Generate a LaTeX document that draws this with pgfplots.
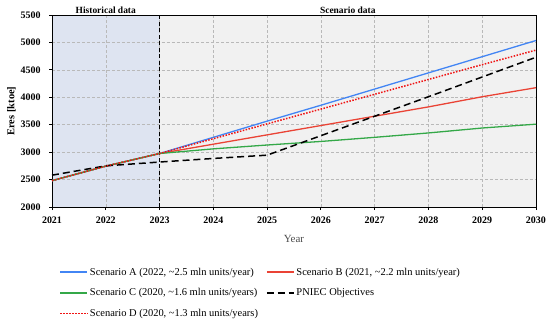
\documentclass[border=0pt]{standalone}
\usepackage{pgfplots}
\pgfplotsset{compat=1.18}
\usetikzlibrary{calc}
\usepackage{fontspec}
\setmainfont{Liberation Serif}
\definecolor{scenA}{RGB}{66,133,244}
\definecolor{scenB}{RGB}{234,67,53}
\definecolor{scenC}{RGB}{52,168,72}
\definecolor{scenD}{RGB}{240,20,20}
\definecolor{histbg}{RGB}{222,228,241}
\definecolor{scenbg}{RGB}{241,241,241}
\tikzset{
  stA/.style={color=scenA, line width=1.3pt},
  stB/.style={color=scenB, line width=1.3pt},
  stC/.style={color=scenC, line width=1.3pt},
  stP/.style={color=black, line width=1.5pt, dash pattern=on 7pt off 4pt},
  stD/.style={color=scenD, line width=1.5pt, dash pattern=on 1.5pt off 1.5pt},
}
\begin{document}
\begin{tikzpicture}
\begin{axis}[
  scale only axis,
  width=484bp, height=192bp,
  xmin=2021, xmax=2030, ymin=2000, ymax=5500,
  xtick={2021,...,2030}, ytick={2000,2500,...,5500},
  axis background/.style={fill=scenbg, path picture={
    \fill[histbg] (path picture bounding box.south west) rectangle
      ($(path picture bounding box.north west)!0.2222222!(path picture bounding box.north east)$);}},
  /pgf/number format/assume math mode=true,
  x tick label style={/pgf/number format/1000 sep={}, yshift=-3bp},
  y tick label style={/pgf/number format/1000 sep={}, xshift=-5bp},
  tick label style={font=\bfseries\fontsize{10}{12}\selectfont, black},
  tick align=outside, tick pos=left,
  major tick length=3bp,
  every tick/.style={black, line width=0.8pt},
  axis line style={black, line width=0.9pt},
  grid=major,
  major grid style={gray!55, dash pattern=on 3pt off 2pt, line width=0.5pt},
  xlabel={Year}, xlabel style={font=\fontsize{11}{13}\selectfont, text=black!70, yshift=-5bp},
  ylabel={Eres [ktoe]}, ylabel style={font=\bfseries\fontsize{10.5}{12}\selectfont, yshift=-2bp},
  clip=false,
  legend columns=2,
  legend cell align=left,
  legend style={at={(0.015,-0.305)}, anchor=north west, draw=none, fill=none,
    font=\fontsize{10.5}{12.5}\selectfont, row sep=8bp, inner sep=0pt,
    /tikz/every even column/.append style={column sep=6bp}},
  legend image code/.code={\draw[#1] (0bp,0bp) -- (27bp,0bp);},
]
\addplot[black, line width=0.9pt, dash pattern=on 4pt off 2.5pt, forget plot]
  coordinates {(2023,2000)(2023,5500)};

\addplot[stA] coordinates {
(2021,2480)(2022,2745)(2023,2975)(2024,3270)(2025,3565)(2026,3855)(2027,4150)(2028,4445)(2029,4740)(2030,5035)};
\addlegendentry{Scenario A (2022, \textasciitilde2.5 mln units/year)}
\addplot[stB] coordinates {
(2021,2480)(2022,2745)(2023,2975)(2024,3145)(2025,3315)(2026,3485)(2027,3655)(2028,3825)(2029,4010)(2030,4175)};
\addlegendentry{Scenario B (2021, \textasciitilde2.2 mln units/year)}
\addplot[stC] coordinates {
(2021,2480)(2022,2745)(2023,2975)(2024,3060)(2025,3130)(2026,3195)(2027,3270)(2028,3350)(2029,3440)(2030,3510)};
\addlegendentry{Scenario C (2020, \textasciitilde1.6 mln units/years)}
\addplot[stP] coordinates {
(2021,2580)(2022,2750)(2023,2820)(2024,2885)(2025,2945)(2026,3300)(2027,3655)(2028,4010)(2029,4370)(2030,4730)};
\addlegendentry{PNIEC Objectives}
\addplot[stD] coordinates {
(2021,2480)(2022,2745)(2023,2975)(2024,3245)(2025,3515)(2026,3785)(2027,4055)(2028,4325)(2029,4595)(2030,4860)};
\addlegendentry{Scenario D (2020, \textasciitilde1.3 mln units/years)}
\addlegendimage{empty legend}
\addlegendentry{}

\node[anchor=south, font=\bfseries\fontsize{9.5}{11}\selectfont, inner sep=1.5bp] at (axis cs:2022,5500) {Historical data};
\node[anchor=south, font=\bfseries\fontsize{9.5}{11}\selectfont, inner sep=1.5bp] at (axis cs:2026.5,5500) {Scenario data};
\path (rel axis cs:0,1) ++(-52bp,15bp) coordinate (bbtl);
\path (rel axis cs:1,0) ++(14bp,-115bp) coordinate (bbbr);
\end{axis}
\useasboundingbox (bbtl) rectangle (bbbr);
\end{tikzpicture}
\end{document}
